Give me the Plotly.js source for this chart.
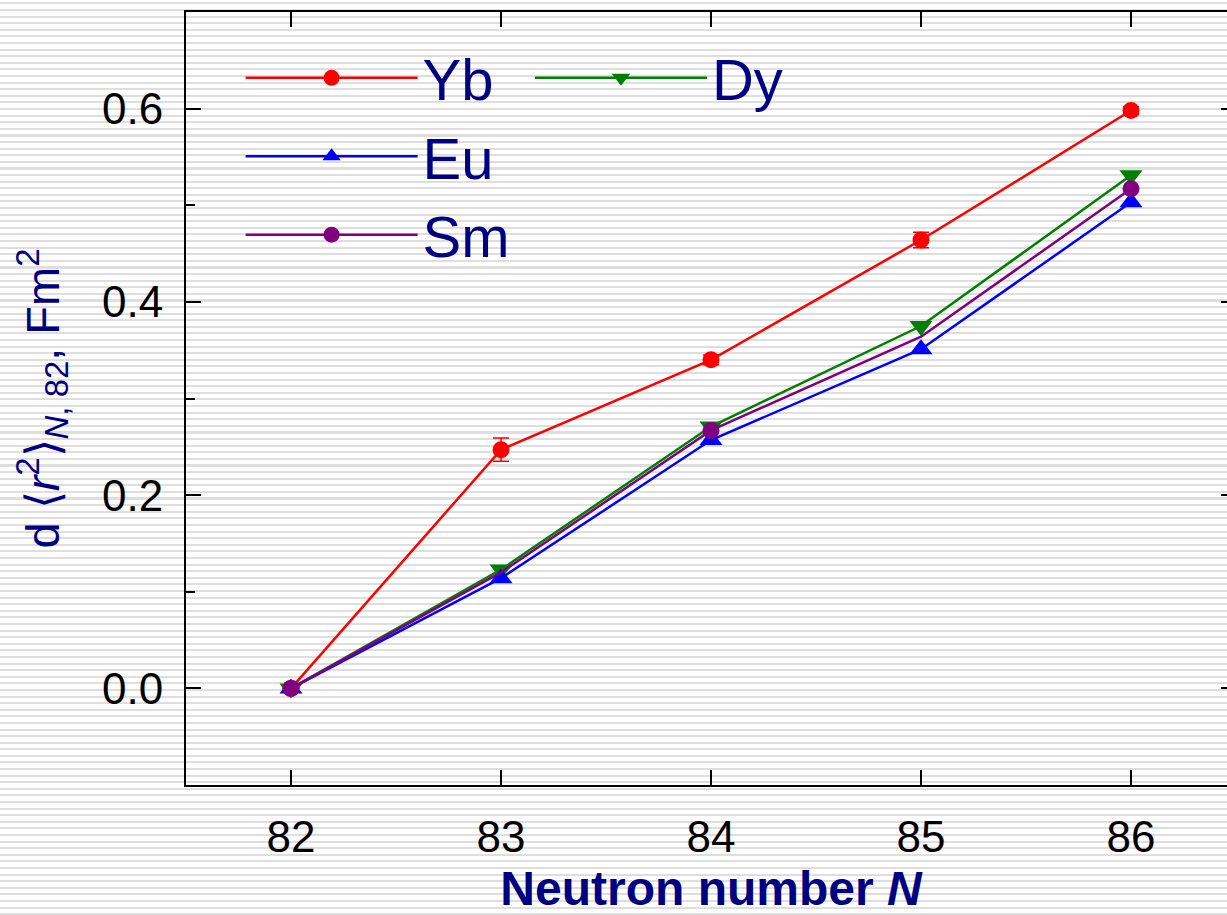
<!DOCTYPE html>
<html>
<head>
<meta charset="utf-8">
<script src="https://cdn.plot.ly/plotly-3.0.1.min.js"></script>
<style>
  html, body { margin: 0; padding: 0; overflow: hidden; width: 1227px; height: 915px; }
  body {
    background: repeating-linear-gradient(to bottom,
      #ffffff 0px, #ffffff 2.5px, #dedede 2.5px, #dedede 4.5px, #ffffff 4.5px, #ffffff 6.6px);
  }
  #chart { width: 1245px; height: 915px; }
</style>
</head>
<body>
<div id="chart"></div>
<script>
// Data
const neutronN = [82, 83, 84, 85, 86];
const xTickLabels = ['82', '83', '84', '85', '86'];
const yTickVals = [0.0, 0.2, 0.4, 0.6];
const yTickLabels = ['0.0', '0.2', '0.4', '0.6'];

const ybValues = [0.000, 0.247, 0.340, 0.464, 0.598];
const ybErrors = [0.000, 0.012, 0.005, 0.008, 0.004];
const euValues = [0.000, 0.114, 0.257, 0.351, 0.503];
const dyValues = [0.000, 0.123, 0.271, 0.375, 0.531];
const smValues = [0.000, 0.120, 0.267, 0.364, 0.517];
const smMarkerShown = [true, false, true, false, true];

const navy = '#000080';
const fontFam = '"Liberation Sans", Arial, sans-serif';

const traces = [
  {
    x: neutronN, y: ybValues, name: 'Yb', mode: 'lines+markers', legend: 'legend',
    line: { color: '#ff0000', width: 2.5 },
    marker: { symbol: 'circle', size: 17, color: '#ff0000' },
    error_y: { type: 'data', array: ybErrors, visible: true, color: '#ff0000', thickness: 1.5, width: 8 }
  },
  {
    x: neutronN, y: dyValues, name: 'Dy', mode: 'lines+markers', legend: 'legend2',
    line: { color: '#008000', width: 2.5 },
    marker: { symbol: 'triangle-down', size: 20, color: '#008000' }
  },
  {
    x: neutronN, y: euValues, name: 'Eu', mode: 'lines+markers', legend: 'legend',
    line: { color: '#0000ff', width: 2.5 },
    marker: { symbol: 'triangle-up', size: 20, color: '#0000ff' }
  },
  {
    x: neutronN, y: smValues, name: 'Sm', mode: 'lines+markers', legend: 'legend',
    line: { color: '#800080', width: 2.5 },
    marker: { symbol: 'circle', size: 17,
      color: smMarkerShown.map(s => s ? '#800080' : 'rgba(0,0,0,0)'),
      line: { width: 0 } }
  }
];

const legendFont = { family: fontFam, size: 58, color: navy };

const layout = {
  width: 1245, height: 915,
  margin: { l: 186, r: 9, t: 12, b: 130 },
  paper_bgcolor: 'rgba(0,0,0,0)',
  plot_bgcolor: 'rgba(0,0,0,0)',
  font: { family: fontFam, color: '#000000' },
  showlegend: true,
  legend: {
    x: 0.052, y: 0.972, xanchor: 'left', yanchor: 'top',
    bgcolor: 'rgba(0,0,0,0)', borderwidth: 0,
    font: legendFont, itemwidth: 172, traceorder: 'normal',
    tracegroupgap: 0
  },
  legend2: {
    x: 0.3276, y: 0.972, xanchor: 'left', yanchor: 'top',
    bgcolor: 'rgba(0,0,0,0)', borderwidth: 0,
    font: legendFont, itemwidth: 172
  },
  xaxis: {
    range: [81.5, 86.5],
    tickvals: neutronN, ticktext: xTickLabels,
    ticks: 'inside', ticklen: 15, tickwidth: 2, tickcolor: '#000',
    showline: true, linewidth: 2, linecolor: '#000', mirror: 'ticks',
    showgrid: false, zeroline: false,
    tickfont: { family: fontFam, size: 44, color: '#000' },
    ticklabelstandoff: 12,
    title: { text: '<b>Neutron number <i>N</i></b>', font: { family: fontFam, size: 48, color: navy }, standoff: 18 }
  },
  yaxis: {
    range: [-0.1, 0.7],
    tickvals: yTickVals, ticktext: yTickLabels,
    ticks: 'inside', ticklen: 15, tickwidth: 2, tickcolor: '#000',
    minor: { dtick: 0.1, tick0: 0, ticks: 'inside', ticklen: 9, tickwidth: 2, tickcolor: '#000', showgrid: false },
    showline: true, linewidth: 2, linecolor: '#000', mirror: 'ticks',
    showgrid: false, zeroline: false,
    tickfont: { family: fontFam, size: 44, color: '#000' },
    ticklabelstandoff: 12,
    title: { text: 'd \u27E8<i>r</i><sup>2</sup>\u27E9<sub><i>N</i>, 82</sub>, Fm<sup>2</sup>',
      font: { family: fontFam, size: 47, color: navy }, standoff: 28 }
  }
};

Plotly.newPlot('chart', traces, layout, { displayModeBar: false, staticPlot: true });
</script>
</body>
</html>
